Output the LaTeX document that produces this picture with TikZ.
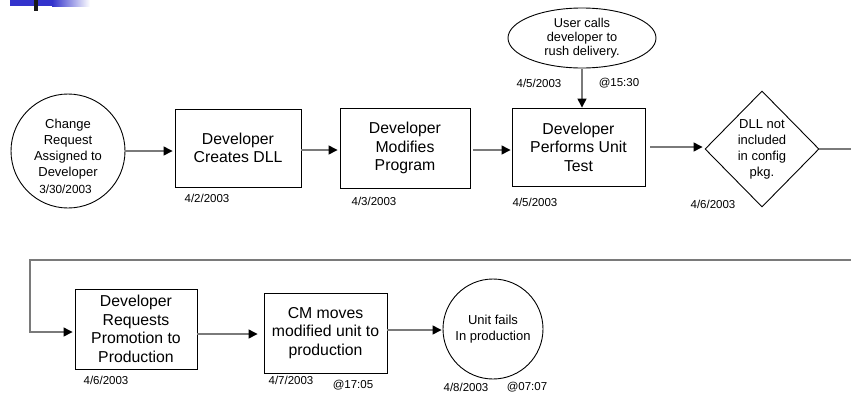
\documentclass[tikz,border=0pt]{standalone}
\usepackage{fontspec}
\setmainfont{Liberation Sans}
\usetikzlibrary{shapes.geometric,arrows.meta}
\definecolor{barblue}{HTML}{3333CC}
\definecolor{conn}{HTML}{7A7A7A}
\tikzset{
  boxnode/.style={draw=black, line width=0.9pt, rectangle, align=center,
    font=\fontsize{15.8}{18.5}\selectfont, inner sep=0pt},
  circnode/.style={draw=black, line width=0.9pt, circle, inner sep=0pt},
  ellnode/.style={draw=black, line width=0.9pt, ellipse, inner sep=0pt, align=center,
    font=\fontsize{12.8}{13.8}\selectfont},
  diamnode/.style={draw=black, line width=0.9pt, diamond, inner sep=0pt, align=center,
    font=\fontsize{13}{16}\selectfont},
  datelbl/.style={font=\fontsize{11.5}{13}\selectfont, inner sep=0pt},
  conline/.style={draw=conn, line width=1.3pt,
    -{Triangle[length=9pt,width=9pt,color=black]}},
}
\begin{document}
\begin{tikzpicture}[x=1pt,y=-1pt]
\useasboundingbox (0,0) rectangle (851,405);
\clip (0,0) rectangle (851,405);
% slide decoration
\fill[barblue] (10,0) rectangle (52,6);
\shade[left color=barblue, right color=white] (52,0) rectangle (90,6);
\fill[black!90] (34,0) rectangle (38,11);

% nodes
\node[circnode, minimum size=114pt] (c1) at (68,151) {};
\node[align=center, inner sep=0pt, font=\fontsize{13}{16}\selectfont] (c1t) at (68,156)
  {Change\\Request\\Assigned to\\Developer\\[1pt]
   {\fontsize{11.8}{13}\selectfont\hspace*{-5pt}3/30/2003}};
\node[boxnode, minimum width=126pt, minimum height=78pt] (b1) at (238,148) {Developer\\Creates DLL};
\node[boxnode, minimum width=130pt, minimum height=80pt] (b2) at (405,148) {Developer\\Modifies\\Program};
\node[boxnode, minimum width=133pt, minimum height=78pt] (b3) at (578.5,147) {Developer\\Performs Unit\\Test};
\node[ellnode, minimum width=148pt, minimum height=60pt] (e1) at (582,38) {User calls\\developer to\\rush delivery.};
\node[diamnode, minimum width=114pt, minimum height=116pt] (d1) at (762,149) {DLL not\\included\\in config\\pkg.};
\node[boxnode, minimum width=122pt, minimum height=80pt] (b4) at (136,329) {Developer\\Requests\\Promotion to\\Production};
\node[boxnode, minimum width=123pt, minimum height=80pt] (b5) at (325.5,333) {CM moves\\modified unit to\\production};
\node[circnode, minimum size=100pt, align=center, font=\fontsize{13}{16}\selectfont] (c2) at (493,329) {Unit fails\\In production};

% date labels
\node[datelbl] (l1) at (207,198) {4/2/2003};
\node[datelbl] (l2) at (374,201) {4/3/2003};
\node[datelbl] (l3) at (535,202) {4/5/2003};
\node[datelbl] (l4) at (539,83) {4/5/2003};
\node[datelbl] (l5) at (619,83) {@15:30};
\node[datelbl] (l6) at (713,204) {4/6/2003};
\node[datelbl] (l7) at (106,380) {4/6/2003};
\node[datelbl] (l8) at (291,380) {4/7/2003};
\node[datelbl] (l9) at (353,385) {@17:05};
\node[datelbl] (l10) at (466,387) {4/8/2003};
\node[datelbl] (l11) at (527,387) {@07:07};

% connectors
\draw[conline, shorten >=2pt] (c1.east) -- (c1.east -| b1.west);
\draw[conline, shorten >=2pt] ([yshift=-2pt]b1.east) -- ([yshift=-2pt]b2.west);
\draw[conline, shorten <=3pt, shorten >=1pt] ([yshift=-2pt]b2.east) -- ([yshift=-2pt]b2.east -| b3.west);
\draw[conline, shorten <=1pt, shorten >=0pt] (e1.south -| 582,0) -- (b3.north -| 582,0);
\draw[conline, shorten <=5pt, shorten >=2pt] (b3.east) -- (b3.east -| d1.west);
\draw[conline, shorten >=2pt] (d1.east) -- (870,149) -- (870,260) -- (30,260) |- ([yshift=-3pt]b4.west);
\draw[conline, shorten >=6pt] ([yshift=-5pt]b4.east) -- ([yshift=-5pt]b4.east -| b5.west);
\draw[conline, shorten >=1pt] ([yshift=3pt]b5.east) -- ([yshift=3pt]b5.east -| c2.west);
\end{tikzpicture}
\end{document}
